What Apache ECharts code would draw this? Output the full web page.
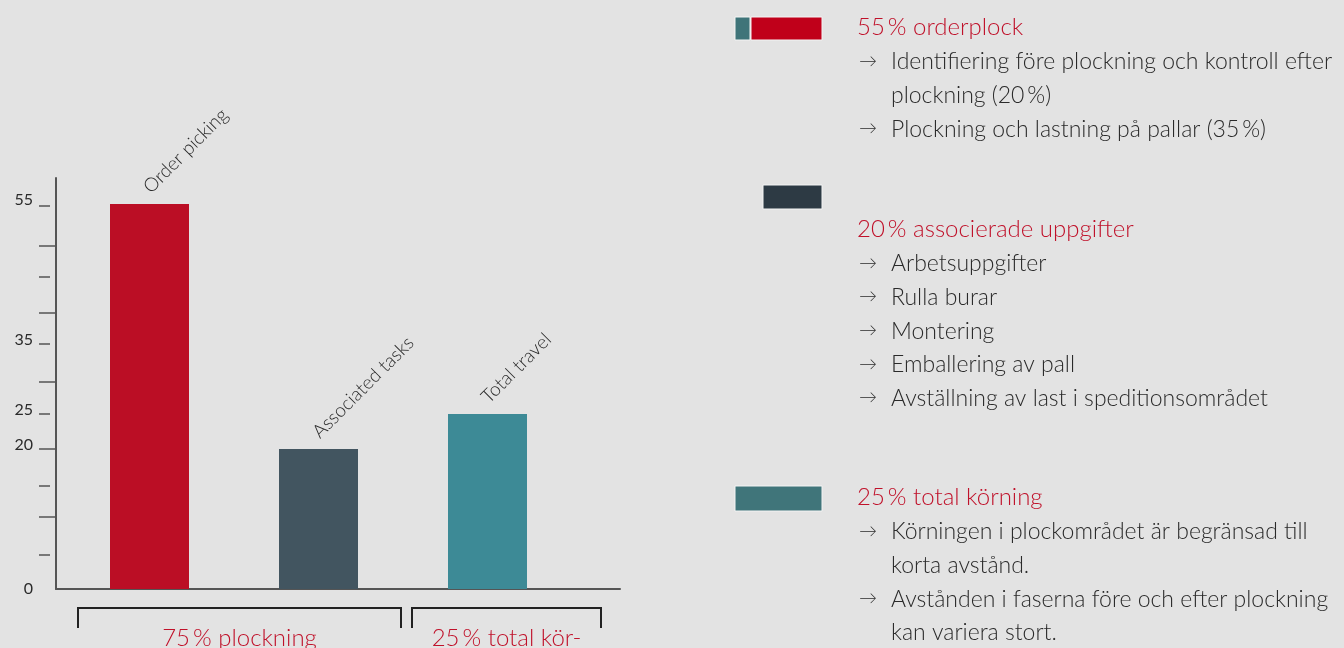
<!DOCTYPE html>
<html>
<head>
<meta charset="utf-8">
<script src="https://cdn.jsdelivr.net/npm/echarts@6/dist/echarts.min.js"></script>
<style>
  html, body { margin: 0; padding: 0; background: #e3e3e3; }
  #chart { width: 1344px; height: 648px; }
</style>
</head>
<body>
<div id="chart"></div>
<script>
// data
const categories = ['Order picking', 'Associated tasks', 'Total travel']
const shares = [55, 20, 25]
const yLabelValues = [0, 20, 25, 35, 55]
// tick marks (hand drawn, not quite even)
const majorTicks = [10.3, 20, 29.6, 39.4, 49]
const minorTicks = [4.9, 14.7, 25, 35, 44.6, 54.8]
const groupLabels = ['75\u2009% plockning', '25\u2009% total kör-']

const headings = ['55\u2009% orderplock', '20\u2009% associerade uppgifter', '25\u2009% total körning']
const notes1 = [['Identifiering före plockning och kontroll efter', 'plockning (20\u2009%)'], ['Plockning och lastning på pallar (35\u2009%)']]
const notes2 = [['Arbetsuppgifter'], ['Rulla burar'], ['Montering'], ['Emballering av pall'], ['Avställning av last i speditionsområdet']]
const notes3 = [['Körningen i plockområdet är begränsad till', 'korta avstånd.'], ['Avstånden i faserna före och efter plockning', 'kan variera stort.']]

const barColors = ['#bb0e25', '#425560', '#3d8a96']
const red = '#c0112a'
const textColor = '#2a2a2a'
const FONT = 'Lato, sans-serif'
const BODY_SIZE = 23
const HEAD_SIZE = 24

const chart = echarts.init(document.getElementById('chart'))

const yMax = 411 / 7   // axis line runs a bit above 55

// right hand text block
const textBlock = (heading, notes, y0) => {
  const els = []
  const step = 33.7
  els.push({
    type: 'text', x: 857, y: y0,
    style: { text: heading, fill: red, font: `300 ${HEAD_SIZE}px ${FONT}`, verticalAlign: 'middle' }
  })
  let y = y0 + step
  notes.forEach(lines => {
    els.push({
      type: 'text', x: 859, y: y,
      style: { text: '\u2192', fill: textColor, font: `300 18px ${FONT}`, verticalAlign: 'middle' }
    })
    lines.forEach(line => {
      els.push({
        type: 'text', x: 891, y: y + 1,
        style: { text: line, fill: textColor, font: `300 ${BODY_SIZE}px ${FONT}`, verticalAlign: 'middle' }
      })
      y += step
    })
  })
  return els
}

const swatch = (x, y, w, h, color) => ({
  type: 'rect', shape: { x, y, width: w, height: h },
  style: { fill: color, stroke: '#f4f4f4', lineWidth: 1 }
})

const bracket = (x1, x2, label) => [
  {
    type: 'polyline',
    shape: { points: [[x1, 628], [x1, 608], [x2, 608], [x2, 628]] },
    style: { stroke: '#222', lineWidth: 2, fill: null }
  },
  {
    type: 'text', x: (x1 + x2) / 2, y: 638,
    style: { text: label, fill: red, font: `300 ${HEAD_SIZE}px ${FONT}`, align: 'center', verticalAlign: 'middle' }
  }
]

const option = {
  backgroundColor: '#e3e3e3',
  animation: false,
  grid: [
    { left: 56, top: 178, width: 564, height: 411 },
    { left: 65, top: 178, width: 507, height: 411 }
  ],
  xAxis: [
    {
      gridIndex: 0, type: 'value', min: 0, max: 1,
      axisLine: { show: true, lineStyle: { color: '#555', width: 2 } },
      axisTick: { show: false }, axisLabel: { show: false }, splitLine: { show: false }
    },
    {
      gridIndex: 1, type: 'category', data: categories,
      axisLine: { show: false }, axisTick: { show: false }, axisLabel: { show: false }
    }
  ],
  yAxis: [
    {
      gridIndex: 0, type: 'value', min: 0, max: yMax, position: 'left',
      axisLine: { show: true, lineStyle: { color: '#555', width: 2 } },
      axisTick: { show: true, length: 17, customValues: majorTicks, lineStyle: { color: '#555', width: 1.5 } },
      axisLabel: {
        show: true, customValues: yLabelValues, margin: 23,
        color: textColor, fontSize: 16, fontFamily: FONT,
        formatter: v => v === 0 ? String(v) : '{up|' + v + '}',
        rich: { up: { fontSize: 16, fontFamily: FONT, color: textColor, padding: [0, 0, 9, 0] } }
      },
      splitLine: { show: false }
    },
    {
      gridIndex: 0, type: 'value', min: 0, max: yMax, offset: 6, position: 'left',
      axisLine: { show: false },
      axisTick: { show: true, length: 11, customValues: minorTicks, lineStyle: { color: '#555', width: 1.5 } },
      axisLabel: { show: false }, splitLine: { show: false }
    },
    {
      gridIndex: 1, type: 'value', min: 0, max: yMax, show: false, splitLine: { show: false }
    }
  ],
  series: [
    {
      type: 'bar',
      xAxisIndex: 1, yAxisIndex: 2,
      data: shares,
      barWidth: 79,
      itemStyle: { color: p => barColors[p.dataIndex] },
      label: {
        show: true, position: 'top', distance: 17, rotate: 45,
        align: 'left', verticalAlign: 'middle', offset: [-4, 0],
        formatter: p => categories[p.dataIndex],
        color: textColor, fontSize: 19, fontFamily: FONT, fontWeight: 300
      }
    }
  ],
  graphic: [
    swatch(735, 17, 15, 23, '#3f7479'),
    swatch(751, 17, 71, 23, '#c0001a'),
    swatch(763, 185, 59, 24, '#2d3a44'),
    swatch(735, 486, 87, 25, '#40757a'),
    ...textBlock(headings[0], notes1, 27),
    ...textBlock(headings[1], notes2, 229),
    ...textBlock(headings[2], notes3, 497),
    ...bracket(78, 401, groupLabels[0]),
    ...bracket(412, 601, groupLabels[1])
  ]
}

chart.setOption(option)
window.addEventListener('resize', () => chart.resize())
</script>
</body>
</html>
